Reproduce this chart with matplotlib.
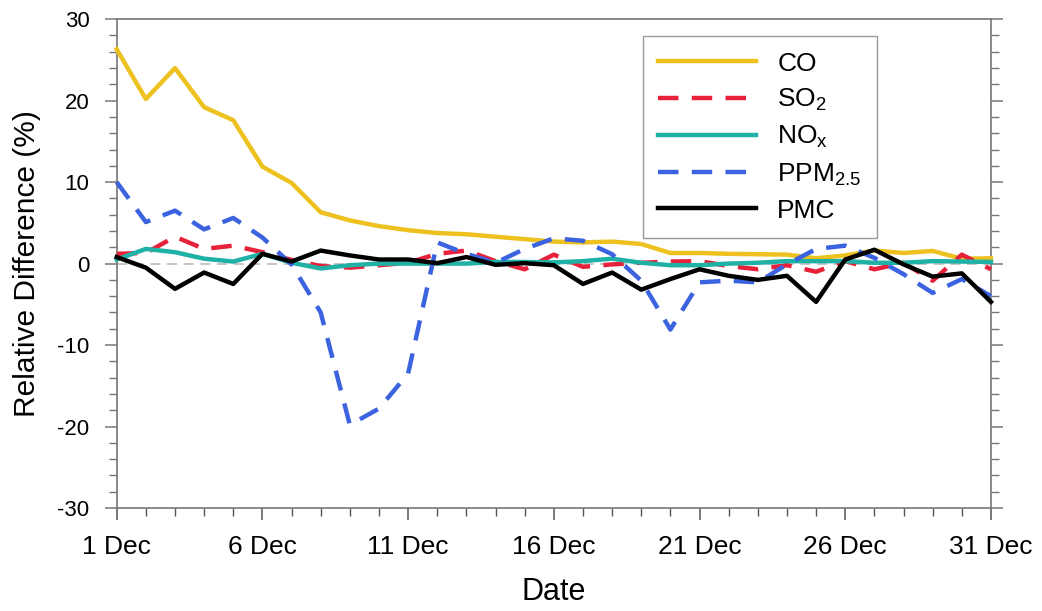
import numpy as np
import matplotlib
matplotlib.use('Agg')
import matplotlib.pyplot as plt
from matplotlib.ticker import MultipleLocator

plt.rcParams['font.family'] = ['Liberation Sans', 'DejaVu Sans']
plt.rcParams['mathtext.default'] = 'regular'
plt.rcParams['axes.unicode_minus'] = False

# 数据
days = np.arange(1, 32)
co = [26.3, 20.2, 24.0, 19.2, 17.6, 11.9, 9.9, 6.3, 5.3, 4.6, 4.1, 3.75, 3.6, 3.3, 3.0, 2.7,
      2.6, 2.7, 2.4, 1.3, 1.3, 1.2, 1.15, 1.1, 0.65, 1.0, 1.6, 1.3, 1.55, 0.6, 0.65]
so2 = [1.2, 1.3, 3.3, 1.8, 2.2, 1.4, 0.45, -0.3, -0.5, -0.2, 0.1, 1.2, 1.6, 0.3, -0.7, 1.1,
       -0.4, -0.1, 0.1, 0.25, 0.3, -0.3, -0.7, -0.2, -1.0, 0.3, -0.7, 0.1, -2.1, 1.1, -0.7]
nox = [0.5, 1.8, 1.4, 0.6, 0.25, 1.2, 0.1, -0.6, -0.2, 0.0, 0.0, 0.0, 0.0, 0.2, 0.2, 0.15,
       0.3, 0.6, 0.1, -0.2, -0.2, 0.0, 0.1, 0.3, 0.3, 0.3, 0.1, 0.1, 0.3, 0.25, 0.2]
ppm25 = [10.0, 5.1, 6.5, 4.2, 5.6, 3.2, -0.1, -6.0, -19.8, -17.8, -13.5, 2.6, 1.2, 0.1, 1.8, 3.1,
         2.8, 1.15, -2.1, -8.1, -2.3, -2.1, -2.3, -0.1, 1.8, 2.2, 0.7, -1.3, -3.6, -1.9, -4.0]
pmc = [0.8, -0.5, -3.1, -1.1, -2.5, 1.2, 0.25, 1.6, 1.0, 0.5, 0.5, 0.05, 0.8, -0.15, 0.05, -0.2,
       -2.5, -1.1, -3.2, -1.9, -0.7, -1.5, -2.0, -1.5, -4.7, 0.5, 1.7, -0.1, -1.6, -1.2, -4.7]

xtick_days = [1, 6, 11, 16, 21, 26, 31]
xtick_labels = ['1 Dec', '6 Dec', '11 Dec', '16 Dec', '21 Dec', '26 Dec', '31 Dec']

fig = plt.figure(figsize=(10.42, 6.11), dpi=100)
ax = fig.add_axes([0.112, 0.1686, 0.839, 0.80])

# 零线
ax.axhline(0, color='#bbbbbb', lw=1.2, ls=(0, (6, 4)), zorder=1)

lw = 3.2
dash = (0, (4.6, 3.0))
ax.plot(days, co, color='#EDC220', lw=lw, label='CO', zorder=3, clip_on=False)
ax.plot(days, so2, color='#E8213B', lw=lw, ls=dash, label=r'SO$_2$', zorder=3, clip_on=False)
ax.plot(days, nox, color='#1FB1A5', lw=lw, label=r'NO$_x$', zorder=3, clip_on=False)
ax.plot(days, ppm25, color='#3B63E0', lw=lw, ls=dash, label=r'PPM$_{2.5}$', zorder=3, clip_on=False)
ax.plot(days, pmc, color='black', lw=lw, label='PMC', zorder=4, clip_on=False)

ax.set_xlim(1, 31)
ax.set_ylim(-30, 30)
ax.set_xticks(xtick_days)
ax.set_xticklabels(xtick_labels)
ax.xaxis.set_minor_locator(MultipleLocator(1))
ax.yaxis.set_major_locator(MultipleLocator(10))
ax.yaxis.set_minor_locator(MultipleLocator(2))

for s in ax.spines.values():
    s.set_color('#777777')
    s.set_linewidth(1.2)

ax.tick_params(axis='x', which='both', direction='out', top=False, colors='#555555',
               labelcolor='black', labelsize=19, pad=11)
ax.tick_params(axis='y', which='both', direction='out', right=True, colors='#777777',
               labelcolor='black', labelsize=16, pad=11)
ax.tick_params(which='major', length=8.6, width=1.1)
ax.tick_params(which='minor', length=5.5, width=1.0)

ax.set_xlabel('Date', fontsize=22, labelpad=13)
ax.set_ylabel('Relative Difference (%)', fontsize=21.5, labelpad=12)

leg = ax.legend(loc='upper left', bbox_to_anchor=(0.6016, 0.9659), borderaxespad=0,
                fontsize=19, handlelength=3.7, handletextpad=0.8, labelspacing=0.42,
                borderpad=0.6, fancybox=False, framealpha=1)
leg.get_frame().set_edgecolor('#999999')
leg.get_frame().set_linewidth(1.0)

fig.savefig('out.png', dpi=100)
